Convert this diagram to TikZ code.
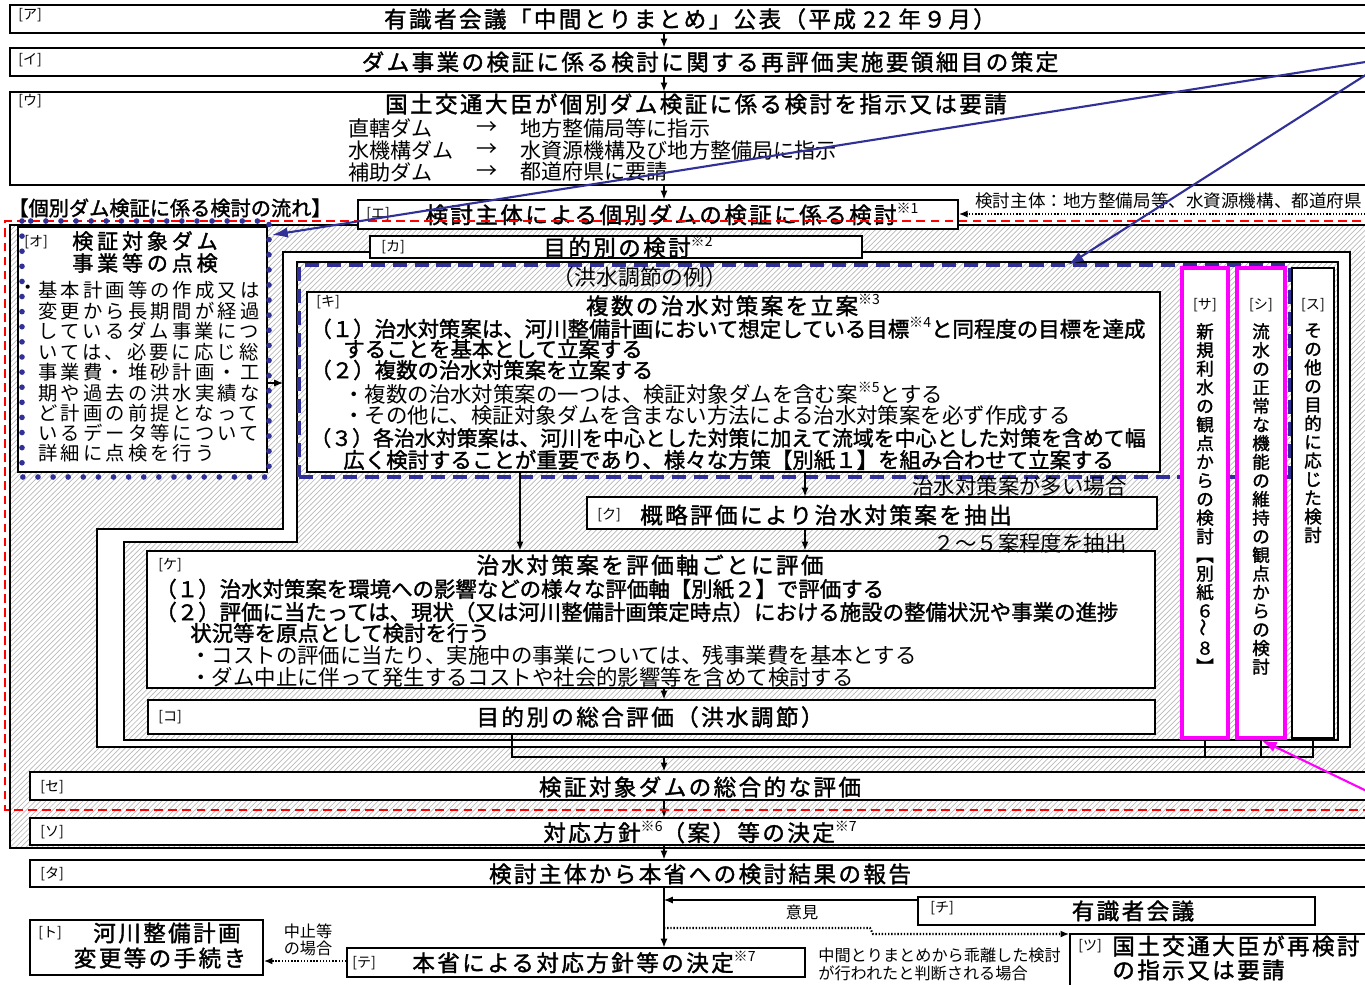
\documentclass[tikz,border=0pt]{standalone}
\usepackage{fontspec}
\newfontfamily\jp{Noto Sans CJK JP}
\newfontfamily\jpb{Noto Sans CJK JP}[FakeBold=1.6]
\usetikzlibrary{arrows.meta,fit,patterns}

\definecolor{navy}{RGB}{48,48,150}
\definecolor{pinkline}{RGB}{255,0,255}
\newcommand{\chu}[1]{\raisebox{.45em}{\jp\fontsize{8}{8}\selectfont ※#1}}

\tikzset{
  box/.style={draw, fill=white, line width=.8pt, inner sep=0pt},
  hatch/.style={pattern=north east lines, pattern color=gray!55},
  tag/.style={font=\jp\fontsize{8}{9}\selectfont, anchor=west, inner sep=0pt},
  ttl/.style={font=\jpb\fontsize{12.8}{14}\selectfont\addfontfeature{LetterSpace=11}, inner sep=0pt},
  otl/.style={font=\jpb\fontsize{12}{13}\selectfont\addfontfeature{LetterSpace=18}, inner sep=0pt},
  hd/.style={font=\jpb\fontsize{11.5}{13}\selectfont, anchor=west, inner sep=0pt},
  lst/.style={font=\jp\fontsize{12}{13}\selectfont, anchor=west, inner sep=0pt},
  bld/.style={font=\jpb\fontsize{12.2}{13}\selectfont, anchor=west, inner sep=0pt},
  reg/.style={font=\jp\fontsize{12.2}{13}\selectfont, anchor=west, inner sep=0pt},
  ort/.style={font=\jp\fontsize{11}{12}\selectfont\addfontfeature{LetterSpace=16}, anchor=west, inner sep=0pt},
  sml/.style={font=\jp\fontsize{9.2}{11}\selectfont, inner sep=0pt},
  vtx/.style={font=\jpb\fontsize{10}{10.6}\selectfont, align=center, anchor=north, inner sep=0pt},
  flow/.style={-{Latex[length=5pt,width=4pt]}, line width=.6pt},
  flowtip/.style={-{Latex[length=5pt,width=4pt]}},
  dots/.style={dash pattern=on .8pt off 1pt, line width=1.2pt},
  bluearrow/.style={navy, line width=1.2pt, -{Latex[length=9pt,width=6pt]}},
}

\begin{document}
\begin{tikzpicture}[x=0.02cm, y=-0.02cm]
  \useasboundingbox (0,0) rectangle (1365,984);
  \clip (0,0) rectangle (1365,984);

  % upper steps
  \node[box, fit={(10,5) (1375,33)}] (a) {};
  \node[box, fit={(10,48) (1375,76)}] (i) {};
  \node[box, fit={(10,92) (1375,185)}] (u) {};

  % frame of the individual dam review
  \node[draw, line width=.8pt, inner sep=0pt, hatch, fit={(10,225) (1375,848)}] (fr) {};
  \node[box, fit={(358,200) (958,229)}] (e) {};

  % purpose frame
  \draw[fill=white, line width=.8pt] (283,252) -- (1350,252) -- (1350,747) -- (97,747)
    -- (97,529) -- (283,529) -- cycle;
  \draw[hatch, line width=.8pt] (297,262) -- (1338,262) -- (1338,740) -- (124,740)
    -- (124,542) -- (297,542) -- cycle;
  \coordinate (kaw) at (283,383);

  \node[box, fit={(370,236) (862,258)}] (ka) {};
  \node[box, fit={(18,227) (267,472)}] (o) {};
  \node[box, fit={(307,292) (1160,472)}] (ki) {};
  \node[draw=navy, line width=2pt, dash pattern=on 8pt off 4.5pt, inner sep=0pt,
    fit={(299,265) (1290,477)}] (flood) {};
  \node[box, fit={(587,497) (1157,529)}] (ku) {};
  \node[box, fit={(147,551) (1155,688)}] (ke) {};
  \node[box, fit={(148,700) (1155,734)}] (ko) {};
  \node[box, draw=pinkline, line width=2.3pt, fit={(1182,268) (1228,738)}] (sa) {};
  \node[box, draw=pinkline, line width=2.3pt, fit={(1237,268) (1285,738)}] (shi) {};
  \node[box, fit={(1292,268) (1334,738)}] (su) {};

  % lower steps
  \node[box, fit={(30,772) (1375,800)}] (se) {};
  \node[box, fit={(30,818) (1375,845)}] (so) {};
  \node[box, fit={(30,860) (1375,887)}] (ta) {};
  \node[box, fit={(918,897) (1315,925)}] (chi) {};
  \node[box, fit={(1070,934) (1375,990)}] (tsu) {};
  \node[box, fit={(347,948) (805,977)}] (te) {};
  \node[box, fit={(30,920) (263,975)}] (to) {};

  % texts
  \node[tag] (ag) at (18,15) {[ア]};
  \node[ttl] (at) at (690,19) {有識者会議「中間とりまとめ」公表（平成 22 年９月）};
  \node[tag] (ig) at (18,60) {[イ]};
  \node[ttl] (it) at (710,62) {ダム事業の検証に係る検討に関する再評価実施要領細目の策定};
  \node[tag] (ug) at (18,101) {[ウ]};
  \node[ttl] (ut) at (696,104) {国土交通大臣が個別ダム検証に係る検討を指示又は要請};
  \foreach \n/\y/\l/\r in {1/128/直轄ダム/地方整備局等に指示,
      2/150/水機構ダム/水資源機構及び地方整備局に指示,
      3/172/補助ダム/都道府県に要請} {
    \node[lst] (ul\n) at (348,\y) {\l};
    \node[lst] (ua\n) at (476,\y) {→};
    \node[lst] (ur\n) at (520,\y) {\r};
  }

  \node[hd] (flowt) at (8,208) {【個別ダム検証に係る検討の流れ】};
  \node[font=\jp\fontsize{10}{11}\selectfont, anchor=west, inner sep=0pt] (who) at (975,201)
    {検討主体：地方整備局等、水資源機構、都道府県};
  \node[tag] (eg) at (366,214) {[エ]};
  \node[ttl] (et) at (672,214) {検討主体による個別ダムの検証に係る検討\chu{1}};

  \node[tag] (og) at (24,242) {[オ]};
  \node[otl] (ot1) at (145,241) {検証対象ダム};
  \node[otl] (ot2) at (145,263) {事業等の点検};
  \node[ort, anchor=center] (obul) at (28,290) {・};
  \foreach \n/\y/\t in {1/290/基本計画等の作成又は, 2/311/変更から長期間が経過,
      3/331/しているダム事業につ, 4/352/いては、必要に応じ総, 5/372/事業費・堆砂計画・工,
      6/393/期や過去の洪水実績な, 7/413/ど計画の前提となって, 8/433/いるデータ等について,
      9/453/詳細に点検を行う}
    \node[ort] (ob\n) at (38,\y) {\t};

  \node[tag] (kag) at (381,247) {[カ]};
  \node[ttl] (kat) at (628,247) {目的別の検討\chu{2}};
  \node[font=\jp\fontsize{12.4}{14}\selectfont, inner sep=0pt] (fldt) at (640,277) {（洪水調節の例）};

  \node[tag] (kig) at (316,302) {[キ]};
  \node[ttl] (kit) at (733,305) {複数の治水対策案を立案\chu{3}};
  \node[bld] (ki1) at (310,328) {（１）治水対策案は、河川整備計画において想定している目標\chu{4}と同程度の目標を達成};
  \node[bld] (ki2) at (343,349) {することを基本として立案する};
  \node[bld] (ki3) at (310,370) {（２）複数の治水対策案を立案する};
  \node[reg] (ki4) at (343,393) {・複数の治水対策案の一つは、検証対象ダムを含む案\chu{5}とする};
  \node[reg] (ki5) at (343,415) {・その他に、検証対象ダムを含まない方法による治水対策案を必ず作成する};
  \node[bld, font=\jpb\fontsize{11.9}{13}\selectfont] (ki6) at (310,438) {（３）各治水対策案は、河川を中心とした対策に加えて流域を中心とした対策を含めて幅};
  \node[bld] (ki7) at (343,460) {広く検討することが重要であり、様々な方策【別紙１】を組み合わせて立案する};

  \node[reg, anchor=east] (many) at (1127,486) {治水対策案が多い場合};
  \node[tag] (kug) at (597,515) {[ク]};
  \node[ttl] (kut) at (826,515) {概略評価により治水対策案を抽出};
  \node[reg, anchor=east] (pick) at (1127,543) {２～５案程度を抽出};

  \node[tag] (keg) at (158,565) {[ケ]};
  \node[ttl] (ket) at (650,565) {治水対策案を評価軸ごとに評価};
  \node[bld] (ke1) at (155,589) {（１）治水対策案を環境への影響などの様々な評価軸【別紙２】で評価する};
  \node[bld] (ke2) at (155,612) {（２）評価に当たっては、現状（又は河川整備計画策定時点）における施設の整備状況や事業の進捗};
  \node[bld] (ke3) at (190,633) {状況等を原点として検討を行う};
  \node[reg] (ke4) at (190,655) {・コストの評価に当たり、実施中の事業については、残事業費を基本とする};
  \node[reg] (ke5) at (190,677) {・ダム中止に伴って発生するコストや社会的影響等を含めて検討する};

  \node[tag] (kog) at (158,717) {[コ]};
  \node[ttl] (kot) at (650,717) {目的別の総合評価（洪水調節）};

  \node[tag, anchor=center] (sag) at (1205,305) {[サ]};
  \node[vtx] (sat) at (1205,323) {新\\規\\利\\水\\の\\観\\点\\か\\ら\\の\\検\\討\\︻\\別\\紙\\６\\\rotatebox{90}{～}\\８\\︼};
  \node[tag, anchor=center] (shig) at (1261,305) {[シ]};
  \node[vtx] (shit) at (1261,323) {流\\水\\の\\正\\常\\な\\機\\能\\の\\維\\持\\の\\観\\点\\か\\ら\\の\\検\\討};
  \node[tag, anchor=center] (sug) at (1313,305) {[ス]};
  \node[vtx] (sut) at (1313,323) {そ\\の\\他\\の\\目\\的\\に\\応\\じ\\た\\検\\討};

  \node[tag] (seg) at (40,787) {[セ]};
  \node[ttl] (set) at (700,787) {検証対象ダムの総合的な評価};
  \node[tag] (sog) at (40,832) {[ソ]};
  \node[ttl] (sot) at (700,832) {対応方針\chu{6}（案）等の決定\chu{7}};
  \node[tag] (tag) at (40,874) {[タ]};
  \node[ttl] (tat) at (700,874) {検討主体から本省への検討結果の報告};
  \node[tag] (chig) at (930,908) {[チ]};
  \node[ttl] (chit) at (1133,911) {有識者会議};
  \node[sml] (iken) at (802,912) {意見};
  \node[tag] (tsug) at (1078,946) {[ツ]};
  \node[ttl, anchor=west] (tsu1) at (1112,946) {国土交通大臣が再検討};
  \node[ttl, anchor=west] (tsu2) at (1112,970) {の指示又は要請};
  \node[sml, anchor=west] (dev1) at (818,955) {中間とりまとめから乖離した検討};
  \node[sml, anchor=west] (dev2) at (818,973) {が行われたと判断される場合};
  \node[tag] (teg) at (352,963) {[テ]};
  \node[ttl, anchor=west] (tet) at (412,962) {本省による対応方針等の決定\chu{7}};
  \node[tag] (tog) at (38,933) {[ト]};
  \node[ttl] (to1) at (167,933) {河川整備計画};
  \node[ttl] (to2) at (160,958) {変更等の手続き};
  \node[sml] (stop1) at (308,931) {中止等};
  \node[sml] (stop2) at (308,948) {の場合};

  % connectors
  \coordinate (mid) at (664,0);
  \coordinate (xk) at (520,0);
  \coordinate (xq) at (805,0);
  \coordinate (xj) at (512,0);
  \coordinate (bus) at (664,757);
  \draw[flow] (a.south -| mid) -- (i.north -| mid);
  \draw[flow] (i.south -| mid) -- (u.north -| mid);
  \draw[flow] (u.south -| mid) -- (e.north -| mid);
  \draw[flow] (o.east |- kaw) -- (kaw);
  \draw[flow] (ki.south -| xk) -- (ke.north -| xk);
  \draw[flow] (ki.south -| xq) -- (ku.north -| xq);
  \draw[flow] (ku.south -| xq) -- (ke.north -| xq);
  \draw[flow] (ke.south -| mid) -- (ko.north -| mid);
  \draw[line width=.6pt] (ko.south -| xj) |- (su.south |- bus) -- (su.south);
  \draw[line width=.6pt] (sa.south) -- (sa.south |- bus);
  \draw[line width=.6pt] (shi.south) -- (shi.south |- bus);
  \draw[flow] (bus) -- (se.north -| bus);
  \draw[flow] (se.south -| mid) -- (so.north -| mid);
  \draw[flow] (so.south -| mid) -- (ta.north -| mid);
  \draw[flow] (ta.south -| mid) -- (te.north -| mid);
  \draw[flow] (chi.west |- 0,900) -- (mid |- 0,900);
  \draw[dots, flowtip] (mid |- 0,928) -- (870,928) -- (873,934) -- (tsu.west |- 0,934);
  \draw[dots, flowtip] (te.west |- 0,961) -- (to.east |- 0,961);
  \coordinate (src) at (1375,214);
  \draw[dots, flowtip] (src) -- (e.east |- src);

  % marks laid over the chart
  \draw[red, line width=1pt, dash pattern=on 5pt off 3pt] (1375,221) -- (5,221) -- (5,810) -- (1375,810);
  \draw[navy, line width=3.2pt, line cap=round, dash pattern=on 0pt off 8.6pt] (22,221) rectangle (269,477);
  \coordinate (bl1) at (1375,60.5);
  \coordinate (bl2) at (1375,69);
  \coordinate (otip) at (272,235);
  \coordinate (ktip) at (1068,265);
  \draw[bluearrow] (bl1) -- (otip);
  \draw[bluearrow] (bl2) -- (ktip);
  \coordinate (pk) at (1375,795);
  \draw[pinkline, line width=1.2pt, -{Latex[length=9pt,width=6pt]}] (pk) -- (shi.south);
\end{tikzpicture}
\end{document}
